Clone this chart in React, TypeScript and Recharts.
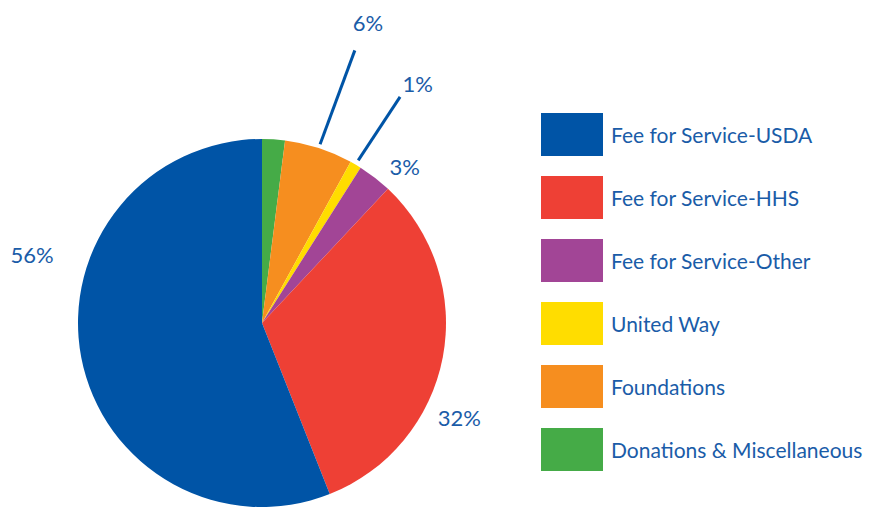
import { PieChart, Pie, Cell, Legend } from 'recharts';

// slices clockwise from 12 o'clock
const categories = [
  'Donations & Miscellaneous',
  'Foundations',
  'United Way',
  'Fee for Service-Other',
  'Fee for Service-HHS',
  'Fee for Service-USDA',
];
const shares = [2, 6, 1, 3, 32, 56];
const percentLabels = ['', '6%', '1%', '3%', '32%', '56%'];
const colors = ['#45ab47', '#f68e1f', '#ffdd00', '#a24596', '#ee4035', '#0054a6'];

const TEXT = '#1a5ca8';
const FONT = 'Lato, "Open Sans", sans-serif';
const RAD = Math.PI / 180;

const data = categories.map((name, i) => ({ name, value: shares[i], label: percentLabels[i] }));

// label placement around the pie: angle offset from slice middle, radius of text centre
const labelLayout: Record<number, { dAngle: number; r: number; leader?: [number, number] }> = {
  1: { dAngle: -1.4, r: 319, leader: [188, 288] },
  2: { dAngle: -2.4, r: 286, leader: [189, 265] },
  3: { dAngle: -4.5, r: 212 },
  4: { dAngle: -14.9, r: 219 },
  5: { dAngle: -27.5, r: 240 },
};

const polar = (cx: number, cy: number, r: number, a: number) => ({
  x: cx + r * Math.cos(-a * RAD),
  y: cy + r * Math.sin(-a * RAD),
});

const renderLabel = (props: any) => {
  const { cx, cy, midAngle, index } = props;
  const layout = labelLayout[index];
  if (!layout || !data[index].label) return null;
  const p = polar(cx, cy, layout.r, midAngle + layout.dAngle);
  let line = null;
  if (layout.leader) {
    const a = polar(cx, cy, layout.leader[0], midAngle);
    const b = polar(cx, cy, layout.leader[1], midAngle - 0.8);
    line = <line x1={a.x} y1={a.y} x2={b.x} y2={b.y} stroke="#0054a6" strokeWidth={3} />;
  }
  return (
    <g key={`lbl-${index}`}>
      {line}
      <text
        x={p.x}
        y={p.y}
        fill={TEXT}
        fontSize={22}
        fontFamily={FONT}
        textAnchor="middle"
        dominantBaseline="central"
      >
        {data[index].label}
      </text>
    </g>
  );
};

const renderLegend = () => {
  // legend lists the slices in reverse order
  const items = data.map((d, i) => ({ name: d.name, color: colors[i] })).reverse();
  return (
    <div>
      {items.map((it) => (
        <div key={it.name} style={{ display: 'flex', alignItems: 'center', height: 43, marginBottom: 20 }}>
          <div style={{ width: 62, height: 43, background: it.color }} />
          <span style={{ marginLeft: 8, color: TEXT, fontSize: 21, fontFamily: FONT }}>{it.name}</span>
        </div>
      ))}
    </div>
  );
};

export default function App() {
  return (
    <div style={{ position: 'absolute', left: 0, top: 0, background: '#fff' }}>
      <PieChart width={877} height={508} margin={{ top: 0, right: 0, bottom: 0, left: 0 }}>
        <Pie
          data={data}
          dataKey="value"
          nameKey="name"
          cx={262}
          cy={323}
          outerRadius={184}
          startAngle={90}
          endAngle={-270}
          stroke="none"
          label={renderLabel}
          labelLine={false}
          isAnimationActive={false}
        >
          {data.map((d, i) => (
            <Cell key={d.name} fill={colors[i]} />
          ))}
        </Pie>
        <Legend
          content={renderLegend}
          layout="vertical"
          wrapperStyle={{ position: 'absolute', left: 541, top: 113, width: 336 }}
        />
      </PieChart>
    </div>
  );
}
